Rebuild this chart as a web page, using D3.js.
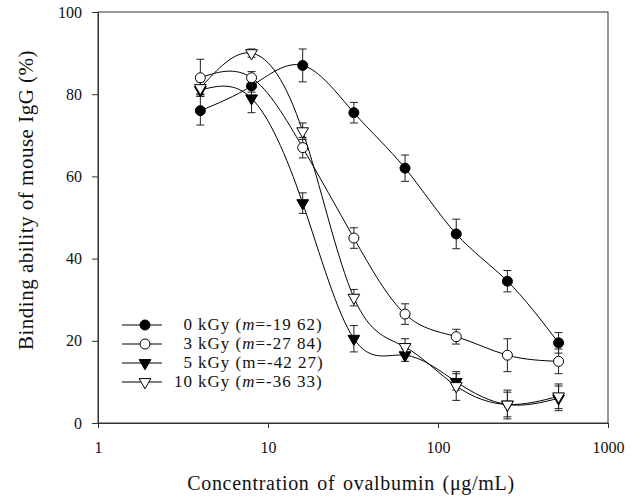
<!DOCTYPE html>
<html>
<head>
<meta charset="utf-8">
<script src="https://cdn.jsdelivr.net/npm/d3@7"></script>
<style>
  body { margin: 0; background: #fff; }
  text { font-family: "Liberation Serif", "DejaVu Serif", serif; fill: #111; }
</style>
</head>
<body>
<div id="chart"></div>
<script>
// Chart size
const width = 643;
const height = 501;

// Data
const concentrations = [4, 8, 16, 32, 64, 128, 256, 512];
const gy0 = [76, 82, 87, 75.5, 62, 46, 34.5, 19.5];
const gy0Err = [3.5, 1.5, 4, 2.5, 3.2, 3.6, 2.6, 2.5];
const gy3 = [84, 84, 67, 45, 26.5, 21, 16.5, 15];
const gy3Err = [4.5, 1.5, 2.5, 2.5, 2.5, 1.8, 4, 3];
const gy5 = [81, 79, 53.5, 20.5, 16.5, 10, 4.5, 6];
const gy5Err = [1, 3.5, 2.5, 3.2, 1.5, 2, 3, 3];
const gy10 = [81.5, 90, 71, 30.5, 18.5, 9, 4.5, 6.5];
const gy10Err = [1.5, 1, 2, 2, 2, 3.5, 3.5, 3];

const doses = ["0", "3", "5", "10"];
const slopes = ["-19 62", "-27 84", "-42 27", "-36 33"];
const slopeItalic = [true, true, false, true];
const xTicks = [1, 10, 100, 1000];
const yTicks = [0, 20, 40, 60, 80, 100];

const series = [
  { values: gy0, errors: gy0Err, shape: "circle", filled: true },
  { values: gy3, errors: gy3Err, shape: "circle", filled: false },
  { values: gy5, errors: gy5Err, shape: "triangle", filled: true },
  { values: gy10, errors: gy10Err, shape: "triangle", filled: false }
];

const svg = d3
  .select("#chart")
  .append("svg")
  .attr("width", width)
  .attr("height", height);

const x = d3.scaleLog().domain([1, 1000]).range([98, 608]);
const y = d3.scaleLinear().domain([0, 100]).range([423, 12]);

// Frame
svg
  .append("rect")
  .attr("x", x(1))
  .attr("y", y(100))
  .attr("width", x(1000) - x(1))
  .attr("height", y(0) - y(100))
  .attr("fill", "none")
  .attr("stroke", "#333")
  .attr("stroke-width", 1);

// Axes
const xAxis = d3.axisBottom(x).tickValues(xTicks).tickFormat(d3.format("d")).tickSize(5).tickPadding(14);
const yAxis = d3.axisLeft(y).tickValues(yTicks).tickSize(6).tickPadding(10);

const gx = svg.append("g").attr("transform", `translate(0,${y(0)})`).call(xAxis);
const gy = svg.append("g").attr("transform", `translate(${x(1)},0)`).call(yAxis);

[gx, gy].forEach((g) => {
  g.select(".domain").attr("stroke", "#333");
  g.selectAll(".tick line").attr("stroke", "#333");
  g.selectAll(".tick text")
    .attr("font-size", 16)
    .attr("font-family", "Liberation Serif")
    .attr("fill", "#111");
});

// Axis titles
svg
  .append("text")
  .attr("x", 351)
  .attr("y", 490)
  .attr("text-anchor", "middle")
  .attr("font-size", 20)
  .attr("letter-spacing", 0.7)
  .attr("word-spacing", 2)
  .text("Concentration of ovalbumin (\u03BCg/mL)");

svg
  .append("text")
  .attr("transform", "translate(33,200) rotate(-90)")
  .attr("text-anchor", "middle")
  .attr("font-size", 21)
  .attr("letter-spacing", 0.5)
  .text("Binding ability of mouse IgG (%)");

// Curves
const line = d3
  .line()
  .x((d, i) => x(concentrations[i]))
  .y((d) => y(d))
  .curve(d3.curveNatural);

const triangle = d3.symbol().type(d3.symbolTriangle).size(60);

function drawMarker(g, s) {
  if (s.shape === "circle") {
    g.append("circle")
      .attr("r", 5)
      .attr("fill", s.filled ? "#000" : "#fff")
      .attr("stroke", "#000")
      .attr("stroke-width", 1);
  } else {
    // downward pointing triangle
    g.append("path")
      .attr("d", triangle())
      .attr("transform", "rotate(180)")
      .attr("fill", s.filled ? "#000" : "#fff")
      .attr("stroke", "#000")
      .attr("stroke-width", 1);
  }
}

series.forEach((s) => {
  svg
    .append("path")
    .datum(s.values)
    .attr("d", line)
    .attr("fill", "none")
    .attr("stroke", "#000")
    .attr("stroke-width", 1);
});

// Error bars
series.forEach((s) => {
  const eb = svg.append("g").attr("stroke", "#222").attr("stroke-width", 1);
  s.values.forEach((v, i) => {
    const cx = x(concentrations[i]);
    const top = y(v + s.errors[i]);
    const bot = y(v - s.errors[i]);
    eb.append("line").attr("x1", cx).attr("x2", cx).attr("y1", top).attr("y2", bot);
    eb.append("line").attr("x1", cx - 4).attr("x2", cx + 4).attr("y1", top).attr("y2", top);
    eb.append("line").attr("x1", cx - 4).attr("x2", cx + 4).attr("y1", bot).attr("y2", bot);
  });
});

// Markers
series.forEach((s) => {
  s.values.forEach((v, i) => {
    const g = svg.append("g").attr("transform", `translate(${x(concentrations[i])},${y(v)})`);
    drawMarker(g, s);
  });
});

// Legend
const legend = svg.append("g").attr("transform", "translate(122,325)");
series.forEach((s, i) => {
  const row = legend.append("g").attr("transform", `translate(0,${i * 19})`);
  row.append("line").attr("x1", 0).attr("x2", 40).attr("stroke", "#000").attr("stroke-width", 1);
  drawMarker(row.append("g").attr("transform", "translate(23,0)"), s);
  row
    .append("text")
    .attr("x", 71)
    .attr("y", 5)
    .attr("text-anchor", "end")
    .attr("font-size", 17)
    .attr("letter-spacing", 1)
    .text(doses[i]);
  const t = row
    .append("text")
    .attr("x", 76)
    .attr("y", 5)
    .attr("font-size", 17)
    .attr("letter-spacing", 1);
  t.append("tspan").text("kGy (");
  t.append("tspan").attr("font-style", slopeItalic[i] ? "italic" : "normal").text("m");
  t.append("tspan").text("=" + slopes[i] + ")");
});
</script>
</body>
</html>
